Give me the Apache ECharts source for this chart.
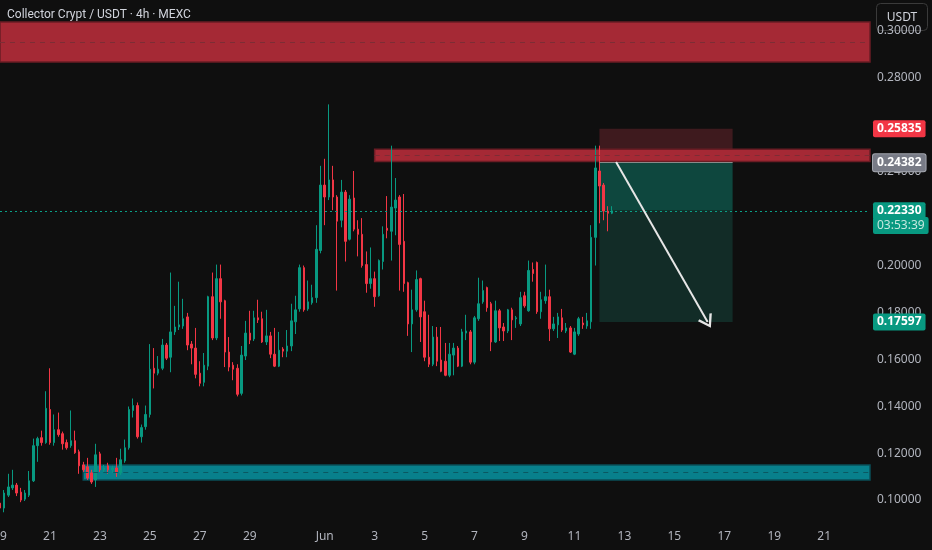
<!DOCTYPE html>
<html><head><meta charset="utf-8">
<script src="https://cdn.jsdelivr.net/npm/echarts@6/dist/echarts.min.js"></script>
<style>html,body{margin:0;padding:0;background:#0f0f0f;}#c{width:932px;height:550px;}</style>
</head><body><div id="c"></div>
<script>
// ---- 4h candles (Collector Crypt / USDT, MEXC), from 19 May 00:00 ----
const opens=[0.0987,0.0966,0.1021,0.1052,0.1064,0.1034,0.1004,0.1021,0.1082,0.1232,
0.1266,0.1245,0.1386,0.1245,0.1300,0.1283,0.1245,0.1232,0.1253,0.1206,
0.1150,0.1142,0.1116,0.1086,0.1197,0.1129,0.1146,0.1129,0.1137,0.1116,
0.1167,0.1223,0.1382,0.1403,0.1270,0.1313,0.1365,0.1562,0.1541,0.1562,
0.1661,0.1609,0.1717,0.1738,0.1742,0.1781,0.1665,0.1648,0.1541,0.1502,
0.1571,0.1867,0.1691,0.1944,0.1850,0.1631,0.1575,0.1562,0.1455,0.1614,
0.1712,0.1687,0.1777,0.1773,0.1674,0.1700,0.1622,0.1571,0.1644,0.1635,
0.1657,0.1760,0.1815,0.1991,0.1815,0.1841,0.1863,0.2064,0.2343,0.2292,
0.2365,0.2292,0.2193,0.2313,0.2112,0.2288,0.2155,0.2133,0.2004,0.1923,
0.1944,0.1871,0.2017,0.2159,0.2146,0.2245,0.2292,0.2103,0.1927,0.1751,
0.1811,0.1944,0.1803,0.1609,0.1579,0.1695,0.1597,0.1592,0.1532,0.1618,
0.1648,0.1571,0.1712,0.1717,0.1588,0.1773,0.1845,0.1906,0.1837,0.1674,
0.1807,0.1738,0.1721,0.1811,0.1773,0.1751,0.1871,0.1807,0.1983,0.2013,
0.1803,0.1850,0.1867,0.1730,0.1747,0.1777,0.1721,0.1734,0.1622,0.1708,
0.1755,0.1742,0.1760,0.2120,0.2403,0.2343,0.2232,0.2223];
const closes=[0.0966,0.1030,0.1056,0.1064,0.1030,0.1000,0.1030,0.1082,0.1232,0.1262,
0.1245,0.1391,0.1245,0.1300,0.1279,0.1240,0.1223,0.1253,0.1202,0.1146,
0.1129,0.1094,0.1077,0.1193,0.1129,0.1137,0.1129,0.1137,0.1116,0.1172,
0.1223,0.1386,0.1403,0.1270,0.1309,0.1365,0.1558,0.1541,0.1558,0.1661,
0.1605,0.1717,0.1738,0.1747,0.1773,0.1661,0.1648,0.1536,0.1498,0.1575,
0.1867,0.1691,0.1944,0.1845,0.1631,0.1567,0.1558,0.1451,0.1618,0.1712,
0.1682,0.1777,0.1768,0.1674,0.1700,0.1622,0.1571,0.1639,0.1635,0.1657,
0.1764,0.1811,0.1991,0.1811,0.1845,0.1863,0.2069,0.2343,0.2292,0.2365,
0.2292,0.2189,0.2313,0.2103,0.2283,0.2155,0.2133,0.2000,0.1923,0.1944,
0.1867,0.2021,0.2133,0.2150,0.2249,0.2279,0.2090,0.1923,0.1751,0.1811,
0.1940,0.1781,0.1609,0.1579,0.1695,0.1592,0.1549,0.1532,0.1622,0.1648,
0.1571,0.1717,0.1721,0.1588,0.1777,0.1837,0.1893,0.1820,0.1674,0.1807,
0.1734,0.1721,0.1811,0.1768,0.1777,0.1863,0.1828,0.1979,0.1966,0.1803,
0.1854,0.1867,0.1730,0.1751,0.1781,0.1725,0.1734,0.1631,0.1717,0.1773,
0.1747,0.1764,0.2120,0.2416,0.2339,0.2232,0.2223,0.2233];
const lows=[0.0948,0.0948,0.1013,0.1043,0.1017,0.0991,0.0996,0.1013,0.1077,0.1163,
0.1232,0.1240,0.1236,0.1232,0.1270,0.1215,0.1215,0.1223,0.1197,0.1112,
0.1120,0.1086,0.1069,0.1056,0.1120,0.1120,0.1112,0.1116,0.1099,0.1107,
0.1159,0.1215,0.1352,0.1262,0.1245,0.1300,0.1352,0.1476,0.1532,0.1554,
0.1597,0.1545,0.1704,0.1725,0.1730,0.1639,0.1579,0.1519,0.1485,0.1485,
0.1554,0.1682,0.1682,0.1773,0.1567,0.1549,0.1511,0.1442,0.1446,0.1597,
0.1665,0.1678,0.1755,0.1670,0.1661,0.1605,0.1567,0.1567,0.1609,0.1609,
0.1635,0.1708,0.1803,0.1803,0.1807,0.1833,0.1841,0.2052,0.2172,0.2279,
0.2236,0.1893,0.2163,0.2017,0.2107,0.2146,0.2039,0.1991,0.1884,0.1901,
0.1824,0.1867,0.1983,0.2116,0.2021,0.2129,0.1893,0.1888,0.1700,0.1631,
0.1803,0.1674,0.1592,0.1567,0.1571,0.1571,0.1545,0.1528,0.1524,0.1532,
0.1567,0.1567,0.1682,0.1579,0.1579,0.1764,0.1837,0.1803,0.1635,0.1670,
0.1678,0.1678,0.1712,0.1682,0.1734,0.1742,0.1820,0.1803,0.1931,0.1794,
0.1773,0.1837,0.1678,0.1721,0.1691,0.1717,0.1712,0.1627,0.1618,0.1700,
0.1730,0.1730,0.1730,0.2000,0.2180,0.2193,0.2146,0.2219];
const highs=[0.1009,0.1043,0.1112,0.1129,0.1073,0.1052,0.1043,0.1124,0.1262,0.1270,
0.1296,0.1464,0.1562,0.1365,0.1373,0.1292,0.1258,0.1382,0.1296,0.1215,
0.1163,0.1180,0.1129,0.1240,0.1206,0.1150,0.1159,0.1146,0.1180,0.1219,
0.1258,0.1399,0.1433,0.1416,0.1322,0.1403,0.1665,0.1648,0.1614,0.1687,
0.1670,0.1970,0.1828,0.1931,0.1858,0.1798,0.1678,0.1734,0.1592,0.1627,
0.1871,0.1970,0.2004,0.2004,0.1854,0.1695,0.1588,0.1579,0.1657,0.1764,
0.1807,0.1807,0.1854,0.1803,0.1811,0.1717,0.1734,0.1717,0.1652,0.1725,
0.1837,0.1871,0.2004,0.2000,0.1936,0.1918,0.2172,0.2425,0.2455,0.2687,
0.2425,0.2300,0.2365,0.2322,0.2300,0.2403,0.2193,0.2202,0.2060,0.2077,
0.1974,0.2026,0.2167,0.2296,0.2511,0.2373,0.2300,0.2305,0.1931,0.1897,
0.1979,0.1948,0.1850,0.1790,0.1742,0.1738,0.1738,0.1670,0.1670,0.1670,
0.1657,0.1730,0.1790,0.1725,0.1785,0.1948,0.1936,0.1910,0.1845,0.1850,
0.1815,0.1755,0.1815,0.1820,0.1785,0.1888,0.1888,0.2021,0.2013,0.2017,
0.1888,0.2004,0.1897,0.1781,0.1798,0.1815,0.1755,0.1742,0.1734,0.1781,
0.1781,0.1798,0.2172,0.2511,0.2511,0.2352,0.2253,0.2253];

// time axis: 4h slots from 19 May to 21 Jun
const slotCount = 210;
const categories = [];
for (let k = 0; k < slotCount; k++) {
  const d = new Date(Date.UTC(2025, 4, 19, 0) + k * 4 * 3600e3);
  const p = n => String(n).padStart(2, '0');
  categories.push(p(d.getUTCMonth() + 1) + '-' + p(d.getUTCDate()) + ' ' + p(d.getUTCHours()) + ':00');
}
const tickDates = ['05-19','05-21','05-23','05-25','05-27','05-29','06-01','06-03','06-05','06-07','06-09','06-11','06-13','06-15','06-17','06-19','06-21'];
const tickLabels = ['19','21','23','25','27','29','Jun','3','5','7','9','11','13','15','17','19','21'];

// levels
const supplyTop = [0.2868, 0.3038];
const supplyMid = [0.2443, 0.2496];
const demand = [0.1086, 0.1150];
const stopPrice = 0.25835, entryPrice = 0.24382, targetPrice = 0.17597, lastPrice = 0.22330;
const countdown = '03:53:39';
const posStart = 144, posEnd = 176;       // slot indexes of the short position box
const arrowFrom = [148, 0.2441], arrowTo = [170, 0.1759];
const zoneStarts = {top: 0, mid: 90, demand: 20};

const FONT = '"Noto Sans", sans-serif';
const C = i => categories[i];
const last = slotCount - 1;
const fmt = v => v.toFixed(5);
const tagPrices = [stopPrice, entryPrice, lastPrice, targetPrice];

const candleData = opens.map((o, i) => [o, closes[i], lows[i], highs[i]]);

function tag(value, text, bg, color, lineStyle, extra) {
  return {
    yAxis: value,
    lineStyle: lineStyle || {color: 'rgba(0,0,0,0)', width: 0},
    label: Object.assign({show: true, position: 'end', distance: 3, formatter: text, color: color || '#ffffff',
      backgroundColor: bg, padding: [2, 4, 1, 4], fontSize: 12, fontWeight: 'bold', lineHeight: 14, fontFamily: FONT, borderRadius: 2}, extra || {})
  };
}

const chart = echarts.init(document.getElementById('c'), null, {renderer: 'canvas'});
chart.setOption({
  backgroundColor: '#0f0f0f',
  animation: false,
  title: {text: 'Collector Crypt / USDT · 4h · MEXC', left: 7, top: 9, padding: 0,
    textStyle: {color: '#d1d4dc', fontSize: 12, fontWeight: 'normal', fontFamily: 'Roboto, "Noto Sans", sans-serif'}},
  grid: {left: 0, right: 62, top: 0, bottom: 26, containLabel: false, outerBoundsMode: 'none'},
  xAxis: {
    type: 'category', data: categories, boundaryGap: false,
    axisLine: {show: false}, axisTick: {show: false}, splitLine: {show: false},
    axisLabel: {
      color: '#b2b5be', fontSize: 12, fontFamily: FONT, margin: 7,
      interval: (idx, val) => val.endsWith(' 00:00') && tickDates.indexOf(val.slice(0, 5)) >= 0,
      formatter: val => { const k = tickDates.indexOf(val.slice(0, 5)); return (k >= 0 && val.endsWith(' 00:00')) ? tickLabels[k] : ''; }
    }
  },
  yAxis: {
    type: 'value', position: 'right', scale: true, min: 0.0898, max: 0.3132, splitNumber: 11,
    axisLine: {show: false}, axisTick: {show: false}, splitLine: {show: false},
    axisLabel: {color: '#b2b5be', fontSize: 12, fontFamily: FONT, margin: 7, showMinLabel: false, showMaxLabel: false,
      formatter: v => {
        if (Math.abs(v / 0.02 - Math.round(v / 0.02)) > 1e-6) return '';
        if (tagPrices.some(t => Math.abs(t - v) < 0.0025)) return '';
        return fmt(v);
      }}
  },
  graphic: [{
    type: 'group', left: 876, top: 3, z: 100,
    children: [
      {type: 'rect', shape: {x: 0, y: 0, width: 51, height: 27, r: 4}, style: {fill: '#0f0f0f', stroke: '#3a3a3a', lineWidth: 1}},
      {type: 'text', x: 25.5, y: 14, style: {text: 'USDT', fill: '#d1d4dc', font: '12px ' + FONT, align: 'center', verticalAlign: 'middle'}}
    ]
  }],
  series: [
    { // short position box
      type: 'line', data: [], z: 1, clip: false, silent: true,
      markArea: {silent: true, data: [
        [{coord: [C(posStart), stopPrice], itemStyle: {color: '#3e1a1e', opacity: 1}}, {coord: [C(posEnd), entryPrice]}],
        [{coord: [C(posStart), entryPrice], itemStyle: {color: '#0e473e', opacity: 1}}, {coord: [C(posEnd), lastPrice]}],
        [{coord: [C(posStart), lastPrice], itemStyle: {color: '#122c27', opacity: 1}}, {coord: [C(posEnd), targetPrice]}]
      ]}
    },
    { // supply / demand zones
      type: 'line', data: [], z: 2, clip: false, silent: true,
      markArea: {silent: true, data: [
        [{coord: [C(zoneStarts.top), supplyTop[1]], itemStyle: {color: '#a52935', borderColor: '#6b1c24', borderWidth: 1.5, opacity: 1}}, {coord: [C(last), supplyTop[0]]}],
        [{coord: [C(zoneStarts.mid), supplyMid[1]], itemStyle: {color: '#a52935', borderColor: '#6b1c24', borderWidth: 1.5, opacity: 1}}, {coord: [C(last), supplyMid[0]]}],
        [{coord: [C(zoneStarts.demand), demand[1]], itemStyle: {color: '#08808c', borderColor: '#0a4f58', borderWidth: 1.5, opacity: 1}}, {coord: [C(last), demand[0]]}]
      ]},
      markLine: {silent: true, precision: 5, symbol: ['none', 'none'], label: {show: false}, data: [
        [{coord: [C(zoneStarts.top), (supplyTop[0] + supplyTop[1]) / 2], lineStyle: {color: '#7c2d35', type: [5, 5], width: 1}}, {coord: [C(last), (supplyTop[0] + supplyTop[1]) / 2]}],
        [{coord: [C(zoneStarts.mid), (supplyMid[0] + supplyMid[1]) / 2], lineStyle: {color: '#7c2d35', type: [5, 5], width: 1}}, {coord: [C(last), (supplyMid[0] + supplyMid[1]) / 2]}],
        [{coord: [C(zoneStarts.demand), (demand[0] + demand[1]) / 2], lineStyle: {color: '#0a5862', type: [5, 5], width: 1}}, {coord: [C(last), (demand[0] + demand[1]) / 2]}],
        [{coord: [C(posStart), entryPrice], lineStyle: {color: '#8a8a8a', type: 'solid', width: 1}}, {coord: [C(posEnd), entryPrice]}]
      ]}
    },
    {
      type: 'candlestick', name: 'CLOUD/USDT', data: candleData, z: 3, clip: false,
      barWidth: 2,
      itemStyle: {color: '#089981', color0: '#f23645', borderColor: '#089981', borderColor0: '#f23645', borderWidth: 1}
    },
    { // price line and price-scale tags
      type: 'line', data: [], z: 5, clip: false, silent: true,
      markLine: {silent: true, precision: 5, symbol: ['none', 'none'], data: [
        tag(lastPrice - 0.0062, countdown, '#089981', '#c5e8df', null, {fontWeight: 'normal', padding: [1, 4, 2, 4]}),
        tag(lastPrice, fmt(lastPrice), '#089981', '#ffffff', {color: '#0a9e86', type: [2, 3], width: 1}),
        tag(stopPrice, fmt(stopPrice), '#f23645'),
        tag(entryPrice, fmt(entryPrice), '#787b86', '#ffffff', null, {borderColor: '#a3a6ae', borderWidth: 1}),
        tag(targetPrice, fmt(targetPrice), '#089981')
      ]}
    },
    { // projected move arrow
      type: 'line', data: [], z: 4, clip: false, silent: true,
      markLine: {silent: true, precision: 5, symbol: ['none', 'path://M0,10 L5,0 L10,10 L8.6,10.8 L5,3.4 L1.4,10.8 Z'], symbolSize: [16, 13],
        label: {show: false},
        lineStyle: {color: '#e6e6e6', width: 2, type: 'solid'},
        data: [[{coord: [C(arrowFrom[0]), arrowFrom[1]]}, {coord: [C(arrowTo[0]), arrowTo[1]]}]]}
    }
  ]
});
</script>
</body></html>
